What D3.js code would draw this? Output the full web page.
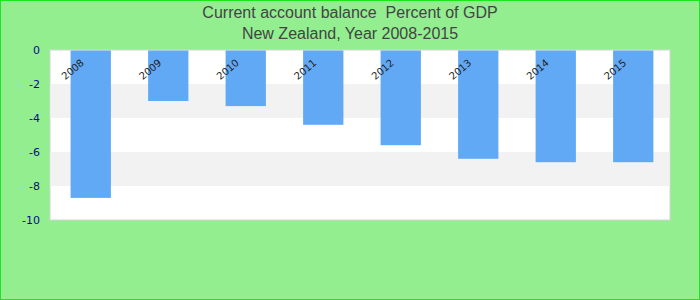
<!DOCTYPE html>
<html lang="en">
  <head>
    <meta charset="utf-8">
    <title>Current account balance</title>
    <script src="https://d3js.org/d3.v7.min.js" charset="utf-8"></script>
    <style>
      body { margin: 0; }
    </style>
  </head>
  <body>
    <script>
      var years = ["2008", "2009", "2010", "2011", "2012", "2013", "2014", "2015"];
      var balance = [-8.7, -3.0, -3.3, -4.4, -5.6, -6.4, -6.6, -6.6];
      var yTicks = [0, -2, -4, -6, -8, -10];
      var titleLines = ["Current account balance  Percent of GDP", "New Zealand, Year 2008-2015"];

      var width = 700,
          height = 300;
      var plot = {left: 50, top: 50, right: 670, bottom: 220};

      var svg = d3.select("body").append("svg")
        .attr("width", width)
        .attr("height", height);

      // background + outer border
      svg.append("rect")
        .attr("x", 0.5).attr("y", 0.5)
        .attr("width", width - 1).attr("height", height - 1)
        .style("fill", "#92ee8f")
        .style("stroke", "#1ee61e");

      var x = d3.scaleBand()
        .domain(years)
        .range([plot.left + 2, plot.right + 2])
        .paddingInner(0.48)
        .paddingOuter(0.24);

      var y = d3.scaleLinear()
        .domain([0, -10])
        .range([plot.top, plot.bottom]);

      // plot area
      svg.append("rect")
        .attr("x", plot.left).attr("y", plot.top)
        .attr("width", plot.right - plot.left).attr("height", plot.bottom - plot.top)
        .style("fill", "white")
        .style("stroke", "#d4d4d4");

      // alternating bands
      svg.append("g")
        .selectAll("rect")
        .data([[-2, -4], [-6, -8]])
        .enter().append("rect")
        .attr("x", plot.left + 0.5)
        .attr("width", plot.right - plot.left - 1)
        .attr("y", function(d) { return y(d[0]); })
        .attr("height", function(d) { return y(d[1]) - y(d[0]); })
        .style("fill", "#f2f2f2");

      // bars
      svg.append("g")
        .selectAll("rect")
        .data(years)
        .enter().append("rect")
        .attr("x", function(d) { return x(d); })
        .attr("width", x.bandwidth())
        .attr("y", y(0) + 0.5)
        .attr("height", function(d, i) { return y(balance[i]) - y(0) - 0.5; })
        .style("fill", "#62a9f5");

      // category labels
      svg.append("g")
        .selectAll("text")
        .data(years)
        .enter().append("text")
        .attr("transform", function(d) {
          return "translate(" + (x(d) + x.bandwidth() / 2 - 6) + ",64) rotate(-40)";
        })
        .attr("text-anchor", "end")
        .style("font-family", "'DejaVu Sans', sans-serif")
        .style("font-size", "10px")
        .style("fill", "#222")
        .text(function(d) { return d; });

      // y axis
      var yAxis = svg.append("g")
        .attr("transform", "translate(" + plot.left + ",0)")
        .call(d3.axisLeft(y).tickValues(yTicks).tickSize(0).tickPadding(10)
          .tickFormat(function(d) { return String(d); }));
      yAxis.select(".domain").remove();
      yAxis.selectAll("text")
        .style("font-family", "'DejaVu Sans', sans-serif")
        .style("font-size", "11px")
        .style("fill", "#0a0a8c");

      // title
      svg.append("g")
        .selectAll("text")
        .data(titleLines)
        .enter().append("text")
        .attr("x", width / 2)
        .attr("y", function(d, i) { return 18 + i * 21; })
        .attr("text-anchor", "middle")
        .style("white-space", "pre")
        .style("font-family", "'Liberation Sans', Arial, sans-serif")
        .style("font-size", "16px")
        .style("fill", "#444")
        .text(function(d) { return d; });
    </script>
  </body>
</html>
